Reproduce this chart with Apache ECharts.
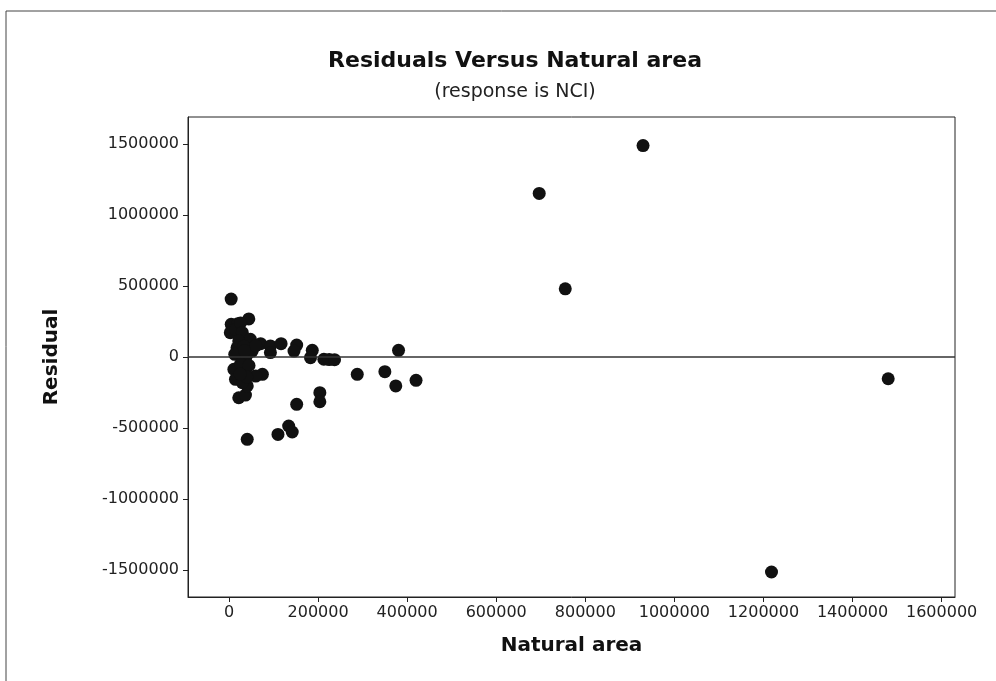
<!DOCTYPE html>
<html>
<head>
<meta charset="utf-8">
<style>
  html, body { margin: 0; padding: 0; background: #ffffff; }
  #chart { width: 996px; height: 681px; }
</style>
<script src="https://cdn.jsdelivr.net/npm/echarts@6/dist/echarts.min.js"></script>
</head>
<body>
<div id="chart"></div>
<script>
// Natural area (x) and the residual of the NCI fit (y) for each observation
const naturalArea = [
  4900, 929600, 696500, 755000, 1218000, 1480000, 380700, 288000, 350000, 374500,
  420000, 152000, 204000, 204000, 110000, 134000, 142000, 41000, 44500, 5000,
  20000, 3000, 15000, 26000, 30000, 48000, 71000, 93000, 93000, 117000,
  152000, 146000, 187000, 183000, 213000, 225000, 237000, 11000, 14600, 22000,
  37000, 75000, 60000, 41000, 30000, 37000, 18000, 30000, 37000, 22000,
  52000, 13000, 41000, 26000, 45000, 33000, 40000, 25000, 60000, 35000
];
const residual = [
  408000, 1489000, 1152000, 480000, -1514000, -153000, 47000, -122000, -103000, -204000,
  -164000, -333000, -251000, -315000, -545000, -486000, -528000, -580000, 268000, 230000,
  235000, 171000, 194000, 240000, 171000, 125000, 94000, 78000, 31000, 94000,
  84000, 42000, 47000, -5000, -16000, -18000, -19000, -87000, -157000, -287000,
  -268000, -122000, -134000, -204000, -181000, -99000, 65000, 19000, -28000, 113000,
  42000, 19000, 19000, -50000, -60000, 75000, -140000, -120000, 80000, 45000
];
const xTicks = [0, 200000, 400000, 600000, 800000, 1000000, 1200000, 1400000, 1600000];
const yTicks = [-1500000, -1000000, -500000, 0, 500000, 1000000, 1500000];

const points = naturalArea.map((x, i) => [x, residual[i]]);

const font = 'DejaVu Sans';
const plain = v => String(v);
const chart = echarts.init(document.getElementById('chart'), null, { renderer: 'canvas' });

chart.setOption({
  backgroundColor: '#ffffff',
  animation: false,
  title: [
    {
      text: 'Residuals Versus Natural area',
      left: 510, top: 45, textAlign: 'center',
      textStyle: { fontFamily: font, fontWeight: 'bold', fontSize: 22, color: '#111' }
    },
    {
      text: '(response is NCI)',
      left: 510, top: 78, textAlign: 'center',
      textStyle: { fontFamily: font, fontWeight: 'normal', fontSize: 19, color: '#222' }
    }
  ],
  graphic: [
    {
      type: 'rect', silent: true,
      shape: { x: 6, y: 11, width: 1000, height: 700 },
      style: { fill: 'none', stroke: '#444', lineWidth: 1 }
    }
  ],
  grid: {
    left: 188, top: 117, right: 41, bottom: 84,
    show: true, borderColor: '#222', borderWidth: 1, backgroundColor: '#fff'
  },
  xAxis: {
    type: 'value',
    min: -92000, max: 1630000,
    name: 'Natural area', nameLocation: 'middle', nameGap: 39,
    nameTextStyle: { fontFamily: font, fontWeight: 'bold', fontSize: 20, color: '#111' },
    axisLine: { show: true, onZero: false, lineStyle: { color: '#222', width: 1 } },
    axisTick: { show: true, length: 5, lineStyle: { color: '#222' }, customValues: xTicks },
    axisLabel: { fontFamily: font, fontSize: 16, color: '#222', margin: 8, customValues: xTicks, formatter: plain },
    splitLine: { show: false }
  },
  yAxis: {
    type: 'value',
    min: -1690000, max: 1690000,
    name: 'Residual', nameLocation: 'middle', nameGap: 126,
    nameTextStyle: { fontFamily: font, fontWeight: 'bold', fontSize: 20, color: '#111' },
    axisLine: { show: true, onZero: false, lineStyle: { color: '#222', width: 1 } },
    axisTick: { show: true, length: 5, lineStyle: { color: '#222' }, customValues: yTicks },
    axisLabel: { fontFamily: font, fontSize: 16, color: '#222', margin: 9, customValues: yTicks, formatter: plain },
    splitLine: { show: false }
  },
  series: [
    {
      type: 'scatter',
      data: points,
      symbol: 'circle',
      symbolSize: 13,
      itemStyle: { color: '#111', opacity: 1 },
      markLine: {
        silent: true,
        symbol: 'none',
        label: { show: false },
        lineStyle: { color: '#333', width: 1.5, type: 'solid' },
        data: [{ yAxis: 0 }]
      },
      z: 3
    }
  ]
});
</script>
</body>
</html>
